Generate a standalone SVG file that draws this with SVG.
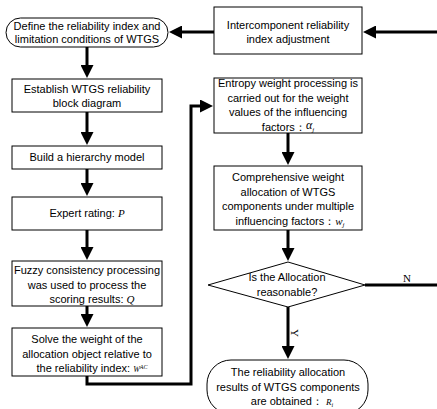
<svg xmlns="http://www.w3.org/2000/svg" width="437" height="409" viewBox="0 0 437 409">
<defs>
<marker id="ah" markerUnits="userSpaceOnUse" markerWidth="13" markerHeight="13" refX="7" refY="6.5" orient="auto">
<path d="M0,0 L13,6.5 L0,13 z" fill="#000"/>
</marker>
<style>
.box{fill:#fff;stroke:#000;stroke-width:1}
.t{font-family:"Liberation Sans",Arial,sans-serif;font-size:11px;fill:#000;text-anchor:middle}
.m{font-family:"Liberation Serif","Times New Roman",serif;font-style:italic}
.lbl{font-family:"Liberation Serif","Times New Roman",serif;font-size:11px;fill:#000;text-anchor:middle}
.c{fill:none;stroke:#000;stroke-width:3}
</style>
</defs>
<rect width="437" height="409" fill="#fff"/>
<g id="connectors">
<path class="c" d="M437,32 L369,32" marker-end="url(#ah)"/>
<path class="c" d="M214,32 L175,32" marker-end="url(#ah)"/>
<path class="c" d="M87,47 L87,72" marker-end="url(#ah)"/>
<path class="c" d="M87,112 L87,139" marker-end="url(#ah)"/>
<path class="c" d="M87,169 L87,190" marker-end="url(#ah)"/>
<path class="c" d="M87,230 L87,254" marker-end="url(#ah)"/>
<path class="c" d="M87,306 L87,321" marker-end="url(#ah)"/>
<path class="c" d="M87,376 L87,384 L191,384 L191,106 L207,106" marker-end="url(#ah)"/>
<path class="c" d="M288,133 L288,159" marker-end="url(#ah)"/>
<path class="c" d="M288,230 L288,255" marker-end="url(#ah)"/>
<path class="c" d="M288,307 L288,353" marker-end="url(#ah)"/>
<path class="c" d="M365,285 L437,285"/>
<text class="lbl" x="407" y="282">N</text>
<text class="lbl" transform="translate(291,333) rotate(90)">Y</text>
</g>
<g id="n_define">
<rect class="box" x="6" y="18" width="162" height="29" rx="14.5"/>
<text class="t" x="87" y="30">Define the reliability index and</text>
<text class="t" x="87" y="43">limitation conditions of WTGS</text>
</g>
<g id="n_adjust">
<rect class="box" x="214" y="7" width="148" height="47"/>
<text class="t" x="288" y="28.5">Intercomponent reliability</text>
<text class="t" x="288" y="42.5">index adjustment</text>
</g>
<g id="n_establish">
<rect class="box" x="12" y="79" width="150" height="33"/>
<text class="t" x="87" y="93">Establish WTGS reliability</text>
<text class="t" x="87" y="107">block diagram</text>
</g>
<g id="n_hierarchy">
<rect class="box" x="12" y="146" width="150" height="23"/>
<text class="t" x="87" y="161">Build a hierarchy model</text>
</g>
<g id="n_expert">
<rect class="box" x="12" y="197" width="150" height="33"/>
<text class="t" x="87" y="217">Expert rating:  <tspan class="m">P</tspan></text>
</g>
<g id="n_fuzzy">
<rect class="box" x="12" y="261" width="150" height="45"/>
<text class="t" x="87" y="274">Fuzzy consistency processing</text>
<text class="t" x="87" y="288.5">was used to process the</text>
<text class="t" x="92" y="303">scoring results: <tspan class="m">Q</tspan></text>
</g>
<g id="n_solve">
<rect class="box" x="12" y="328" width="150" height="48"/>
<text class="t" x="87" y="343">Solve the weight of the</text>
<text class="t" x="87" y="357.5">allocation object relative to</text>
<text class="t" x="92" y="372">the reliability index: <tspan class="m" font-size="8">W</tspan><tspan class="m" font-size="6" dy="-3">AC</tspan></text>
</g>
<g id="n_entropy">
<rect class="box" x="214" y="78" width="148" height="55"/>
<text class="t" x="288" y="87">Entropy weight processing is</text>
<text class="t" x="288" y="101.5">carried out for the weight</text>
<text class="t" x="288" y="116">values of the influencing</text>
<text class="t" x="288" y="130.5">factors：<tspan class="m" font-size="12" dy="-2">α</tspan><tspan class="m" font-size="7" dy="3">j</tspan></text>
</g>
<g id="n_comprehensive">
<rect class="box" x="214" y="166" width="148" height="64"/>
<text class="t" x="288" y="181">Comprehensive weight</text>
<text class="t" x="288" y="195.5">allocation of WTGS</text>
<text class="t" x="288" y="210">components under multiple</text>
<text class="t" x="290" y="224.5">influencing factors：<tspan class="m">w</tspan><tspan class="m" font-size="7" dy="2">j</tspan></text>
</g>
<g id="n_decision">
<polygon class="box" points="208,285 288,262 365,285 288,307"/>
<text class="t" x="287" y="281">Is the Allocation</text>
<text class="t" x="287" y="296">reasonable?</text>
</g>
<g id="n_result">
<rect class="box" x="207" y="360" width="161" height="54" rx="24"/>
<text class="t" x="288" y="375.5">The reliability allocation</text>
<text class="t" x="288" y="390.5">results of WTGS components</text>
<text class="t" x="292" y="405">are obtained：  <tspan class="m" font-size="9">R</tspan><tspan class="m" font-size="6" dy="2">i</tspan></text>
</g>
</svg>
